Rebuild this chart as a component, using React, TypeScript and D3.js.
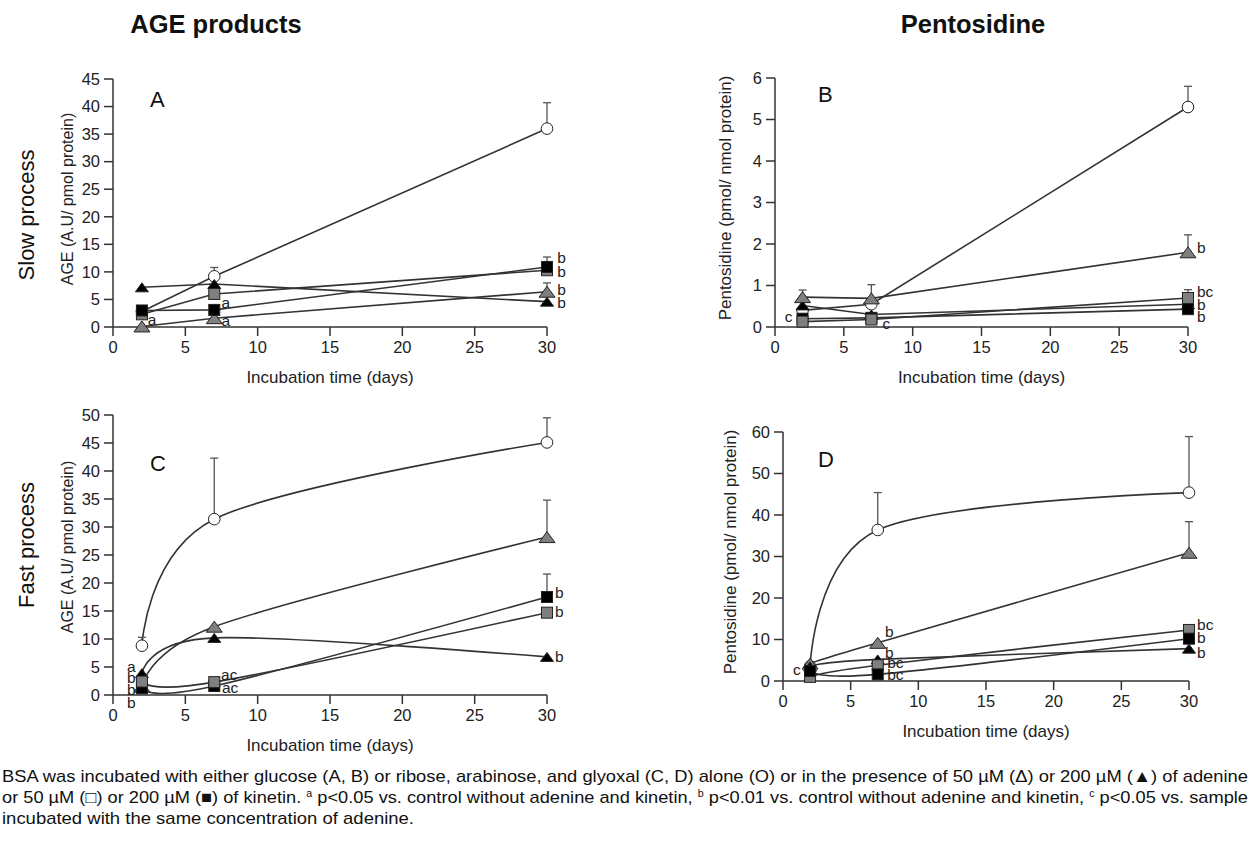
import React from 'react'
import * as d3 from 'd3'

const FONT = '"Liberation Sans", Arial, Helvetica, sans-serif'
const NARROW = '"Liberation Sans Narrow", "Arial Narrow", "Liberation Sans", Arial, sans-serif'

const days = [2, 7, 30]
const xTicks = [0, 5, 10, 15, 20, 25, 30]

// A – AGE, slow process (glucose)
const aControl = [2.8, 9.2, 36.0]
const aAdenine50 = [0.1, 1.6, 6.4]
const aAdenine200 = [7.2, 7.8, 4.6]
const aKinetin50 = [2.3, 6.0, 10.3]
const aKinetin200 = [3.0, 3.1, 10.9]
const aControlErr = [0, 1.6, 4.7]
const aAdenine50Err = [0, 0, 1.6]
const aKinetin200Err = [0, 0, 1.8]
const aNotes: [number, number, string][] = [
  [2.4, 0.4, 'a'], [7.5, 3.4, 'a'], [7.5, 0.2, 'a'],
  [30.7, 11.6, 'b'], [30.7, 9.0, 'b'], [30.7, 5.8, 'b'], [30.7, 3.4, 'b'],
]

// B – pentosidine, slow process
const bControl = [0.4, 0.55, 5.3]
const bAdenine50 = [0.72, 0.69, 1.8]
const bAdenine200 = [0.52, 0.3, 0.55]
const bKinetin50 = [0.13, 0.18, 0.7]
const bKinetin200 = [0.2, 0.22, 0.43]
const bControlErr = [0, 0.47, 0.5]
const bAdenine50Err = [0.17, 0, 0.42]
const bKinetin50Err = [0, 0, 0.2]
const bNotes: [number, number, string][] = [
  [0.7, 0.12, 'c'], [7.8, -0.05, 'c'],
  [30.65, 1.78, 'b'], [30.65, 0.72, 'bc'], [30.65, 0.41, 'b'], [30.65, 0.12, 'b'],
]

// C – AGE, fast process
const cControl = [8.8, 31.4, 45.1]
const cAdenine50 = [1.5, 12.2, 28.2]
const cAdenine200 = [3.9, 10.2, 6.8]
const cKinetin50 = [2.4, 2.3, 14.7]
const cKinetin200 = [1.2, 1.6, 17.5]
const cControlErr = [1.5, 10.9, 4.4]
const cAdenine50Err = [0, 0, 6.6]
const cKinetin200Err = [0, 0, 4.1]
const cNotes: [number, number, string][] = [
  [0.97, 4.1, 'a'], [0.97, 2.1, 'b'], [0.97, 0, 'b'], [0.97, -2.3, 'b'],
  [7.47, 2.7, 'ac'], [7.53, 0.35, 'ac'],
  [30.55, 17.3, 'b'], [30.55, 13.9, 'b'], [30.55, 5.9, 'b'],
]

// D – pentosidine, fast process
const dControl = [3.5, 36.4, 45.4]
const dAdenine50 = [4.2, 9.2, 30.9]
const dAdenine200 = [3.5, 5.2, 7.8]
const dKinetin50 = [1.0, 3.8, 12.3]
const dKinetin200 = [2.4, 1.6, 10.2]
const dControlErr = [0, 9.0, 13.5]
const dAdenine50Err = [0, 0, 7.5]
const dNotes: [number, number, string][] = [
  [0.74, 1.4, 'c'], [7.54, 10.5, 'b'], [7.54, 5.5, 'b'], [7.7, 3.1, 'bc'], [7.7, 0.2, 'bc'],
  [30.6, 12.2, 'bc'], [30.6, 9.1, 'b'], [30.6, 5.5, 'b'],
]

type Kind = 'circle' | 'triGray' | 'triBlack' | 'sqGray' | 'sqBlack'

interface Series { kind: Kind; values: number[]; err?: number[] }

interface PanelCfg {
  letter: string
  letterX: number
  letterY: number
  left: number
  right: number
  top: number
  bottom: number
  yMax: number
  yStep: number
  curve: d3.CurveFactory
  series: Series[]
  notes: [number, number, string][]
  yTitle: string
  yTitleX: number
  yTitleY: number
  yTitleSize: number
  xTitleY: number
}

const panels: PanelCfg[] = [
  {
    letter: 'A', letterX: 150, letterY: 107,
    left: 113, right: 547, top: 79, bottom: 327, yMax: 45, yStep: 5,
    curve: d3.curveLinear,
    series: [
      { kind: 'circle', values: aControl, err: aControlErr },
      { kind: 'triBlack', values: aAdenine200 },
      { kind: 'triGray', values: aAdenine50, err: aAdenine50Err },
      { kind: 'sqGray', values: aKinetin50 },
      { kind: 'sqBlack', values: aKinetin200, err: aKinetin200Err },
    ],
    notes: aNotes, yTitle: 'AGE (A.U/ pmol protein)', yTitleX: 73, yTitleY: 199, yTitleSize: 16,
    xTitleY: 383,
  },
  {
    letter: 'B', letterX: 818, letterY: 102,
    left: 775, right: 1188, top: 78, bottom: 327, yMax: 6, yStep: 1,
    curve: d3.curveLinear,
    series: [
      { kind: 'circle', values: bControl, err: bControlErr },
      { kind: 'triBlack', values: bAdenine200 },
      { kind: 'triGray', values: bAdenine50, err: bAdenine50Err },
      { kind: 'sqBlack', values: bKinetin200 },
      { kind: 'sqGray', values: bKinetin50, err: bKinetin50Err },
    ],
    notes: bNotes, yTitle: 'Pentosidine (pmol/ nmol protein)', yTitleX: 731, yTitleY: 198, yTitleSize: 17,
    xTitleY: 383,
  },
  {
    letter: 'C', letterX: 150, letterY: 471,
    left: 113, right: 547, top: 415, bottom: 695, yMax: 50, yStep: 5,
    curve: d3.curveCardinal,
    series: [
      { kind: 'circle', values: cControl, err: cControlErr },
      { kind: 'triBlack', values: cAdenine200 },
      { kind: 'triGray', values: cAdenine50, err: cAdenine50Err },
      { kind: 'sqBlack', values: cKinetin200, err: cKinetin200Err },
      { kind: 'sqGray', values: cKinetin50 },
    ],
    notes: cNotes, yTitle: 'AGE (A.U/ pmol protein)', yTitleX: 73, yTitleY: 547, yTitleSize: 16,
    xTitleY: 751,
  },
  {
    letter: 'D', letterX: 818, letterY: 467,
    left: 783, right: 1189, top: 432, bottom: 681, yMax: 60, yStep: 10,
    curve: d3.curveCardinal,
    series: [
      { kind: 'circle', values: dControl, err: dControlErr },
      { kind: 'triGray', values: dAdenine50, err: dAdenine50Err },
      { kind: 'triBlack', values: dAdenine200 },
      { kind: 'sqGray', values: dKinetin50 },
      { kind: 'sqBlack', values: dKinetin200 },
    ],
    notes: dNotes, yTitle: 'Pentosidine (pmol/ nmol protein)', yTitleX: 736, yTitleY: 552, yTitleSize: 17,
    xTitleY: 737,
  },
]

const LINE = '#333'

function Marker({ kind, cx, cy }: { kind: Kind; cx: number; cy: number }) {
  if (kind === 'circle') {
    return <circle cx={cx} cy={cy} r={5.8} fill="#fff" stroke="#222" strokeWidth={1} />
  }
  if (kind === 'triGray' || kind === 'triBlack') {
    const w = kind === 'triGray' ? 16 : 13
    const h = kind === 'triGray' ? 11 : 9
    const d = `M${cx - w / 2},${cy + h / 2}L${cx + w / 2},${cy + h / 2}L${cx},${cy - h / 2}Z`
    return (
      <path d={d} fill={kind === 'triGray' ? '#7f7f7f' : '#000'} stroke="#222" strokeWidth={1} />
    )
  }
  const s = 11
  return (
    <rect x={cx - s / 2} y={cy - s / 2} width={s} height={s}
      fill={kind === 'sqGray' ? '#7f7f7f' : '#000'} stroke="#222" strokeWidth={1} />
  )
}

function Panel({ cfg }: { cfg: PanelCfg }) {
  const x = d3.scaleLinear().domain([0, 30]).range([cfg.left, cfg.right])
  const y = d3.scaleLinear().domain([0, cfg.yMax]).range([cfg.bottom, cfg.top])
  const yTicks = d3.range(0, cfg.yMax + cfg.yStep / 2, cfg.yStep)
  const line = d3
    .line<number>()
    .x((_, i) => x(days[i]))
    .y((v) => y(v))
    .curve(cfg.curve)

  return (
    <g fontFamily={FONT}>
      {/* axes */}
      <line x1={cfg.left} x2={cfg.left} y1={cfg.top} y2={cfg.bottom} stroke={LINE} strokeWidth={1.5} />
      <line x1={cfg.left} x2={cfg.right} y1={cfg.bottom} y2={cfg.bottom} stroke={LINE} strokeWidth={1.5} />
      {yTicks.map((t) => (
        <g key={'y' + t}>
          <line x1={cfg.left - 9} x2={cfg.left} y1={y(t)} y2={y(t)} stroke={LINE} strokeWidth={1.5} />
          <text x={cfg.left - 13} y={y(t)} dy="0.35em" textAnchor="end" fontSize={16.5} fill="#222">
            {t}
          </text>
        </g>
      ))}
      {xTicks.map((t) => (
        <g key={'x' + t}>
          <line x1={x(t)} x2={x(t)} y1={cfg.bottom} y2={cfg.bottom + 9} stroke={LINE} strokeWidth={1.5} />
          <text x={x(t)} y={cfg.bottom + 26} textAnchor="middle" fontSize={16.5} fill="#222">
            {t}
          </text>
        </g>
      ))}
      <text x={(cfg.left + cfg.right) / 2} y={cfg.xTitleY} textAnchor="middle" fontSize={17} fill="#222">
        Incubation time (days)
      </text>
      <text
        transform={`translate(${cfg.yTitleX},${cfg.yTitleY}) rotate(-90)`}
        textAnchor="middle" fontSize={cfg.yTitleSize} fill="#222"
      >
        {cfg.yTitle}
      </text>
      <text x={cfg.letterX} y={cfg.letterY} fontSize={22} fill="#111">
        {cfg.letter}
      </text>

      {/* lines */}
      {cfg.series.map((s, i) => (
        <path key={'l' + i} d={line(s.values) || ''} fill="none" stroke={LINE} strokeWidth={1.6} />
      ))}

      {/* error bars */}
      {cfg.series.map((s, i) =>
        (s.err || []).map((e, j) =>
          e > 0 ? (
            <g key={'e' + i + '-' + j} stroke="#555" strokeWidth={1.3}>
              <line x1={x(days[j])} x2={x(days[j])} y1={y(s.values[j])} y2={y(s.values[j] + e)} />
              <line x1={x(days[j]) - 4} x2={x(days[j]) + 4} y1={y(s.values[j] + e)} y2={y(s.values[j] + e)} />
            </g>
          ) : null,
        ),
      )}

      {/* markers */}
      {cfg.series.map((s, i) =>
        s.values.map((v, j) => (
          <Marker key={'m' + i + '-' + j} kind={s.kind} cx={x(days[j])} cy={y(v)} />
        )),
      )}

      {/* significance letters */}
      {cfg.notes.map(([d, v, t], i) => (
        <text key={'n' + i} x={x(d)} y={y(v)} fontSize={15.5} fill="#222">
          {t}
        </text>
      ))}
    </g>
  )
}

export default function App() {
  return (
    <svg width={1260} height={845} style={{ position: 'absolute', left: 0, top: 0, background: '#fff' }}>
      <rect width={1260} height={845} fill="#fff" />
      <g fontFamily={FONT} fill="#111">
        <text x={216} y={33} textAnchor="middle" fontSize={25.5} fontWeight="bold">AGE products</text>
        <text x={973} y={33} textAnchor="middle" fontSize={25.5} fontWeight="bold">Pentosidine</text>
        <text transform="translate(34,215) rotate(-90)" textAnchor="middle" fontSize={22}>Slow process</text>
        <text transform="translate(34,545) rotate(-90)" textAnchor="middle" fontSize={22}>Fast process</text>
      </g>
      {panels.map((p) => (
        <Panel key={p.letter} cfg={p} />
      ))}
      <g fontFamily={NARROW} fontSize={17} fill="#111">
        <text x={2} y={782} textLength={1246} lengthAdjust="spacingAndGlyphs">
          BSA was incubated with either glucose (A, B) or ribose, arabinose, and glyoxal (C, D) alone (O) or in the presence of 50 µM (Δ) or 200 µM (▲) of adenine
        </text>
        <text x={2} y={803} textLength={1246} lengthAdjust="spacingAndGlyphs">
          or 50 µM (□) or 200 µM (■) of kinetin.{' '}
          <tspan fontSize={10} dy={-6}>a</tspan>
          <tspan dy={6}> p&lt;0.05 vs. control without adenine and kinetin, </tspan>
          <tspan fontSize={10} dy={-6}>b</tspan>
          <tspan dy={6}> p&lt;0.01 vs. control without adenine and kinetin, </tspan>
          <tspan fontSize={10} dy={-6}>c</tspan>
          <tspan dy={6}> p&lt;0.05 vs. sample</tspan>
        </text>
        <text x={2} y={824} textLength={412} lengthAdjust="spacingAndGlyphs">
          incubated with the same concentration of adenine.
        </text>
      </g>
    </svg>
  )
}
